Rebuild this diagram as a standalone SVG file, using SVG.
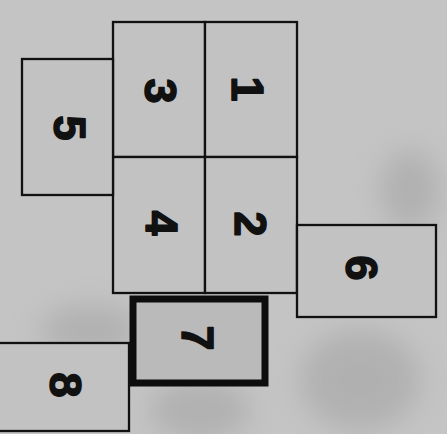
<svg xmlns="http://www.w3.org/2000/svg" width="447" height="434" viewBox="0 0 447 434">
<style>
.box{fill:#c2c2c2;stroke:#111;stroke-width:2.3}
.thick{fill:#bababa;stroke:#0d0d0d;stroke-width:7}
.num{font-family:"Liberation Sans",Arial,sans-serif;font-weight:bold;font-size:45px;fill:#111;stroke:#111;stroke-width:1.6;stroke-linejoin:round;text-anchor:middle}
</style>
<defs>
<filter id="blur" x="-50%" y="-50%" width="200%" height="200%"><feGaussianBlur stdDeviation="14"/></filter>
</defs>
<rect x="0" y="0" width="447" height="434" fill="#c4c4c4"/>
<g filter="url(#blur)" fill="#9e9e9e" opacity="0.5">
<ellipse cx="410" cy="190" rx="30" ry="40"/>
<ellipse cx="360" cy="380" rx="60" ry="50"/>
<ellipse cx="200" cy="410" rx="50" ry="30"/>
<ellipse cx="90" cy="330" rx="50" ry="25"/>
</g>
<g id="node3"><rect class="box" x="113" y="22" width="92" height="135"/><text class="num" transform="translate(161,91) rotate(90)" y="16">3</text></g>
<g id="node1"><rect class="box" x="205" y="22" width="92" height="135"/><text class="num" transform="translate(248,89) rotate(90)" y="16">1</text></g>
<g id="node4"><rect class="box" x="113" y="157" width="92" height="136"/><text class="num" transform="translate(162,223) rotate(90)" y="16">4</text></g>
<g id="node2"><rect class="box" x="205" y="157" width="92" height="136"/><text class="num" transform="translate(251,224) rotate(90)" y="16">2</text></g>
<g id="node5"><rect class="box" x="22" y="59" width="91" height="136"/><text class="num" transform="translate(70,128) rotate(90)" y="16">5</text></g>
<g id="node6"><rect class="box" x="297" y="225" width="139" height="92"/><text class="num" transform="translate(362,268) rotate(90)" y="16">6</text></g>
<g id="node7"><rect class="thick" x="133" y="299" width="132" height="84"/><text class="num" transform="translate(198,338) rotate(90)" y="16">7</text></g>
<g id="node8"><rect class="box" x="-5" y="343" width="134" height="88"/><text class="num" transform="translate(66,385) rotate(90)" y="16">8</text></g>
<g id="connectors"></g>
</svg>
